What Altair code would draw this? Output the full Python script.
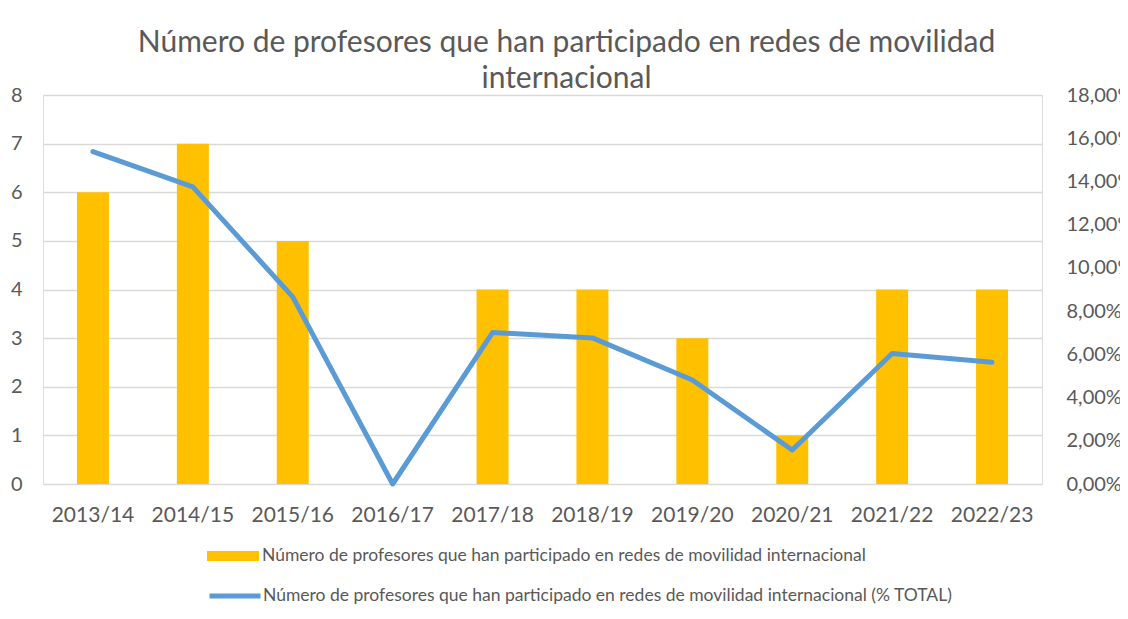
import altair as alt
import pandas as pd

years = ["2013/14", "2014/15", "2015/16", "2016/17", "2017/18",
         "2018/19", "2019/20", "2020/21", "2021/22", "2022/23"]
profesores = [6, 7, 5, 0, 4, 4, 3, 1, 4, 4]
porcentaje = [0.1538, 0.1375, 0.0866, 0.0, 0.0701,
              0.0676, 0.0481, 0.0157, 0.0604, 0.0563]

name_bar = "Número de profesores que han participado en redes de movilidad internacional"
name_line = "Número de profesores que han participado en redes de movilidad internacional (% TOTAL)"
title_lines = ["Número de profesores que han participado en redes de movilidad",
               "internacional"]

df = pd.DataFrame({"year": years, "count": profesores, "pct": porcentaje})

FONT = "Lato"
GRAY = "#595959"

x_enc = alt.X("year:N", sort=years, title=None,
              scale=alt.Scale(paddingInner=0.68, paddingOuter=0.34),
              axis=alt.Axis(labelAngle=0, ticks=False, domain=False,
                            labelFont=FONT, labelFontSize=21, labelColor=GRAY,
                            labelPadding=20))

bars = alt.Chart(df).transform_calculate(serie=f"'{name_bar}'").mark_bar(
    color="#FFC000"
).encode(
    x=x_enc,
    y=alt.Y("count:Q", title=None,
            scale=alt.Scale(domain=[0, 8], nice=False),
            axis=alt.Axis(values=list(range(0, 9)), ticks=False, domain=False,
                          grid=True, gridColor="#D9D9D9", gridWidth=1.3,
                          labelFont=FONT, labelFontSize=20, labelColor=GRAY,
                          labelPadding=21)),
    fill=alt.Fill("serie:N",
                  scale=alt.Scale(domain=[name_bar], range=["#FFC000"]),
                  legend=alt.Legend(title=None, orient="none", legendX=164, legendY=435,
                                    symbolType="M-1,-0.19L1,-0.19L1,0.19L-1,0.19Z",
                                    symbolSize=2704, symbolStrokeWidth=0,
                                    labelFont=FONT, labelFontSize=17.5, labelColor=GRAY,
                                    labelLimit=2000, labelOffset=3)),
)

pct_values = [i / 100 for i in range(0, 19, 2)]
line = alt.Chart(df).transform_calculate(serie=f"'{name_line}'").mark_line(
    strokeWidth=5, strokeJoin="round", strokeCap="round"
).encode(
    x=alt.X("year:N", sort=years, bandPosition=0.5),
    y=alt.Y("pct:Q", title=None,
            scale=alt.Scale(domain=[0, 0.18], nice=False),
            axis=alt.Axis(orient="right", values=pct_values, ticks=False, domain=False,
                          grid=False,
                          labelExpr="replace(format(datum.value, '.2%'), '.', ',')",
                          labelFont=FONT, labelFontSize=20, labelColor=GRAY,
                          labelPadding=24)),
    stroke=alt.Stroke("serie:N",
                      scale=alt.Scale(domain=[name_line], range=["#5B9BD5"]),
                      legend=alt.Legend(title=None, orient="none", legendX=164, legendY=473,
                                        symbolType="stroke", symbolSize=2601,
                                        symbolStrokeWidth=5,
                                        labelFont=FONT, labelFontSize=17.5, labelColor=GRAY,
                                        labelLimit=2000, labelOffset=0)),
)

chart = alt.layer(bars, line).resolve_scale(
    y="independent", fill="independent", stroke="independent"
).properties(
    width=999,
    height=389,
    title=alt.Title(text=title_lines, font=FONT, fontSize=30, fontWeight="normal",
                    color=GRAY, anchor="middle", dx=24, dy=17, offset=8, lineHeight=36),
    autosize=alt.AutoSizeParams(type="none"),
    padding={"left": 35, "top": 87, "right": 78, "bottom": 140},
).configure_view(stroke=None).configure(background="white")

chart.save("out.html", embed_options={"renderer": "svg", "actions": False})
